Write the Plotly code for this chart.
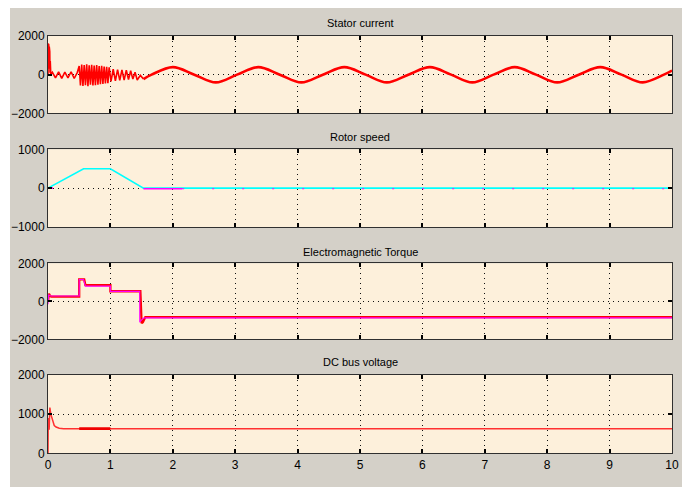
import plotly.graph_objects as go

W, H = 682, 487

# ---------------- data ----------------
# Stator current: start-up transient (drawn with straight segments)
cur_start_t = [0, 0.004, 0.008, 0.012, 0.016, 0.02, 0.024, 0.028, 0.032, 0.036, 0.045,
               0.07, 0.12, 0.17, 0.22, 0.27, 0.32, 0.37, 0.42, 0.47,
               0.50, 0.52, 0.54, 0.56, 0.58, 0.60, 0.62, 0.64, 0.66, 0.68, 0.70, 0.72,
               0.74, 0.76, 0.78, 0.80, 0.82, 0.84, 0.86, 0.88, 0.90, 0.92, 0.94, 0.96, 0.98,
               1.01, 1.045, 1.08, 1.115, 1.15, 1.185, 1.22, 1.255, 1.29, 1.325, 1.36, 1.395,
               1.43, 1.48, 1.53]
cur_start_v = [0, 1600, 200, 1550, 300, 1450, 400, 1200, 100, 700, 0,
               120, -170, 140, -190, 130, -170, 150, -200, 120,
               450, -560, 520, -580, 500, -540, 530, -600, 480, -520, 510, -560, 470,
               -540, 500, -520, 440, -500, 460, -480, 420, -460, 400, -440, 380,
               -350, 280, -320, 260, -300, 250, -280, 230, -260, 200, -230, 120,
               -280, -40, -230]
# Stator current: steady sinusoidal part (extrema and zero crossings)
cur_sine_t = [1.53, 1.66, 2.0, 2.345, 2.69, 3.03, 3.37, 3.715, 4.06, 4.405, 4.75,
              5.09, 5.43, 5.775, 6.12, 6.46, 6.80, 7.14, 7.48, 7.82, 8.16, 8.505,
              8.85, 9.19, 9.53, 9.87, 10.0]
cur_sine_v = [-230, 0, 390, 0, -400, 0, 390, 0, -400, 0, 390,
              0, -400, 0, 390, 0, -400, 0, 390, 0, -400, 0,
              390, 0, -400, 0, 210]

# Rotor speed: reference and measured
spd_ref_t = [0, 0.57, 1.0, 1.53, 10]
spd_ref_v = [0, 500, 500, 0, 0]
spd_meas_t = [1.53, 2.15]
spd_meas_v = [-15, -15]
spd_tail_t = [2.15, 10]
spd_tail_v = [-15, -15]
spd_init_t = [0, 0.08]
spd_init_v = [0, 0]

# Electromagnetic torque: actual and reference
tq_t = [0, 0.015, 0.03, 0.05, 0.5, 0.5, 0.58, 0.6, 1.0, 1.0, 1.48, 1.5, 1.52, 1.56, 10]
tq_v = [0, 400, 300, 250, 250, 1150, 1150, 850, 850, 530, 530, -1150, -1100, -830, -830]
tq_ref_t = [0, 0.01, 0.02, 0.05, 0.5, 0.5, 0.57, 0.6, 1.0, 1.0, 1.47, 1.47, 1.52, 1.55, 10]
tq_ref_v = [-150, 350, 300, 280, 280, 1150, 1150, 800, 800, 520, 520, -1100, -900, -870, -870]

# DC bus voltage
dc_t = [0, 0.004, 0.008, 0.012, 0.018, 0.025, 0.03, 0.045, 0.06, 0.08, 0.1, 0.13,
        0.18, 0.25, 10]
dc_v = [0, 900, 450, 850, 600, 1050, 1170, 1000, 930, 780, 710, 670, 640, 630, 630]
dc_thick_t = [0.5, 1.0]
dc_thick_v = [630, 630]

titles = ["Stator current", "Rotor speed", "Electromagnetic Torque", "DC bus voltage"]
y_ranges = [[-2000, 2000], [-1000, 1000], [-2000, 2000], [0, 2000]]
y_ticks = [[-2000, 0, 2000], [-1000, 0, 1000], [-2000, 0, 2000], [0, 1000, 2000]]
x_ticks = list(range(0, 11))

# ---------------- layout geometry (pixels) ----------------
x_left, x_right = 48, 672
rows_px = [(36, 113.3), (149.3, 227), (263.3, 339.3), (375, 453.3)]
title_px = [23, 137, 252, 362]

RED = "#ff0000"
MAG = "#ff00ff"
CYAN = "#00ffff"

fig = go.Figure()

def add(x, y, ax, color, width, shape="linear", dash="solid"):
    fig.add_trace(go.Scatter(
        x=x, y=y, mode="lines", xaxis="x" if ax == 1 else f"x{ax}",
        yaxis="y" if ax == 1 else f"y{ax}",
        line=dict(color=color, width=width, shape=shape, dash=dash),
        hoverinfo="skip", showlegend=False))

# Panel 1: stator current
add(cur_start_t, cur_start_v, 1, RED, 1.6)
add(cur_sine_t, cur_sine_v, 1, RED, 2.6, shape="spline")

# Panel 2: rotor speed
add(spd_ref_t, spd_ref_v, 2, CYAN, 1.6)
add(spd_meas_t, spd_meas_v, 2, MAG, 1.6)
add(spd_tail_t, spd_tail_v, 2, MAG, 1.2, dash="2px,28px")
add(spd_init_t, spd_init_v, 2, MAG, 1.6)

# Panel 3: torque
add(tq_t, tq_v, 3, RED, 2.3)
add(tq_ref_t, tq_ref_v, 3, MAG, 1.1)

# Panel 4: DC bus voltage
add(dc_t, dc_v, 4, "#ff3030", 1.5)
add(dc_thick_t, dc_thick_v, 4, "#f00000", 2.6)

FONT = "Liberation Sans"
GRID_DASH = "1px,4px"
layout = dict(
    width=W, height=H,
    margin=dict(l=0, r=0, t=0, b=0),
    paper_bgcolor="#d4d0c8",
    plot_bgcolor="#fdf0db",
    font=dict(family=FONT, size=12, color="black"),
    showlegend=False,
    annotations=[],
    shapes=[
        dict(type="rect", xref="paper", yref="paper", x0=0, x1=1,
             y0=1 - 8 / H, y1=1, fillcolor="white", line_width=0, layer="below"),
        dict(type="rect", xref="paper", yref="paper", x0=0, x1=10 / W,
             y0=0, y1=1, fillcolor="white", line_width=0, layer="below"),
    ],
)

for i in range(4):
    n = i + 1
    xk = "xaxis" if n == 1 else f"xaxis{n}"
    yk = "yaxis" if n == 1 else f"yaxis{n}"
    top, bot = rows_px[i]
    layout[xk] = dict(
        domain=[x_left / W, x_right / W], range=[0, 10],
        anchor="y" if n == 1 else f"y{n}",
        tickvals=x_ticks, ticks="inside", ticklen=4, tickwidth=1.5, tickcolor="black",
        showticklabels=(n == 4), tickfont=dict(size=12, family=FONT),
        showgrid=True, gridcolor="#111111", griddash=GRID_DASH, gridwidth=1,
        showline=True, linecolor="#303030", linewidth=1, mirror="ticks",
        zeroline=False, fixedrange=True, automargin=False,
    )
    layout[yk] = dict(
        domain=[1 - bot / H, 1 - top / H], range=y_ranges[i],
        anchor="x" if n == 1 else f"x{n}",
        tickvals=y_ticks[i], ticks="inside", ticklen=4, tickwidth=1.5, tickcolor="black",
        tickfont=dict(size=12, family=FONT),
        showgrid=True, gridcolor="#111111", griddash=GRID_DASH, gridwidth=1,
        showline=True, linecolor="#303030", linewidth=1, mirror="ticks",
        zeroline=False, fixedrange=True, automargin=False,
    )
    layout["annotations"].append(dict(
        text=titles[i], xref="paper", yref="paper",
        x=(x_left + x_right) / 2 / W, y=1 - title_px[i] / H,
        xanchor="center", yanchor="middle", showarrow=False,
        font=dict(size=11, family=FONT, color="black"),
    ))

fig.update_layout(**layout)
fig.write_html("out.html")
